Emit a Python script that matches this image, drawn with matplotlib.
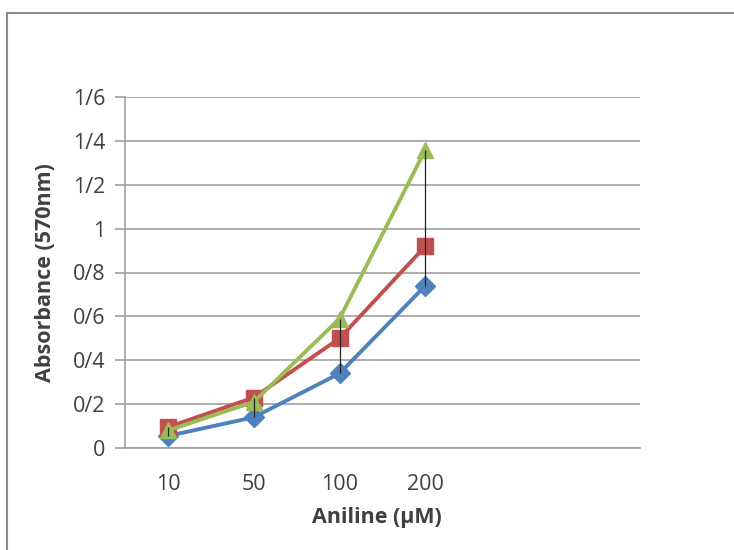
import matplotlib

matplotlib.use("Agg")
import matplotlib.pyplot as plt
import numpy as np
from matplotlib.patches import Rectangle

categories = ["10", "50", "100", "200"]
series_blue = [0.055, 0.14, 0.34, 0.74]
series_red = [0.095, 0.23, 0.50, 0.92]
series_green = [0.08, 0.21, 0.59, 1.36]
y_ticks = [0, 0.2, 0.4, 0.6, 0.8, 1.0, 1.2, 1.4, 1.6]
y_tick_labels = ["0", "0/2", "0/4", "0/6", "0/8", "1", "1/2", "1/4", "1/6"]

plt.rcParams["font.family"] = ["Open Sans", "DejaVu Sans"]

W, H = 734, 550
L, R, T, B = 125, 640, 97, 448
fig = plt.figure(figsize=(W / 100, H / 100), dpi=100)
ax = fig.add_axes([L / W, 1 - B / H, (R - L) / W, (B - T) / H])

# outer chart frame (Excel chart area)
fig.patches.append(Rectangle((7 / W, -0.1), 1.2, 1 - 13 / H + 0.1,
                             transform=fig.transFigure, fill=False,
                             edgecolor="#8c8c8c", linewidth=1.5))

x = np.arange(len(categories))
all_vals = np.array([series_blue, series_red, series_green])

ax.plot(x, series_blue, color="#4F81BD", lw=2.8, marker="D", ms=10,
        markeredgecolor="#4F81BD", zorder=3)
ax.plot(x, series_red, color="#C0504D", lw=2.8, marker="s", ms=12,
        markeredgecolor="#C0504D", zorder=3)
ax.plot(x, series_green, color="#9BBB59", lw=2.8, marker="^", ms=12,
        markeredgecolor="#9BBB59", zorder=3)
# high-low lines
ax.vlines(x, all_vals.min(axis=0), all_vals.max(axis=0), color="#222222",
          lw=0.9, zorder=4)

ax.set_xlim(-0.5, 5.5)
ax.set_ylim(0, 1.6)
ax.set_xticks(x)
ax.set_xticklabels(categories)
ax.set_yticks(y_ticks)
ax.set_yticklabels(y_tick_labels)
ax.yaxis.grid(True, color="#a0a0a0", lw=1.2)
ax.set_axisbelow(True)
for side in ("top", "right"):
    ax.spines[side].set_visible(False)
for side in ("left", "bottom"):
    ax.spines[side].set_color("#a0a0a0")
    ax.spines[side].set_linewidth(1.2)
ax.tick_params(axis="y", length=7, width=1.2, color="#a0a0a0", pad=7,
               labelsize=15.5, labelcolor="#404040")
ax.tick_params(axis="x", length=0, pad=19, labelsize=15.5, labelcolor="#404040")
ax.set_ylabel("Absorbance (570nm)", fontsize=15.5, fontweight="bold",
              color="#404040")
ax.yaxis.set_label_coords(-(L - 56) / (R - L), 0.5)
ax.set_xlabel("Aniline (\u00b5M)", fontsize=15.5, fontweight="bold",
              color="#404040")
ax.xaxis.set_label_coords((377 - L) / (R - L), -(507 - B) / (B - T))

fig.savefig("out.png", dpi=100)
